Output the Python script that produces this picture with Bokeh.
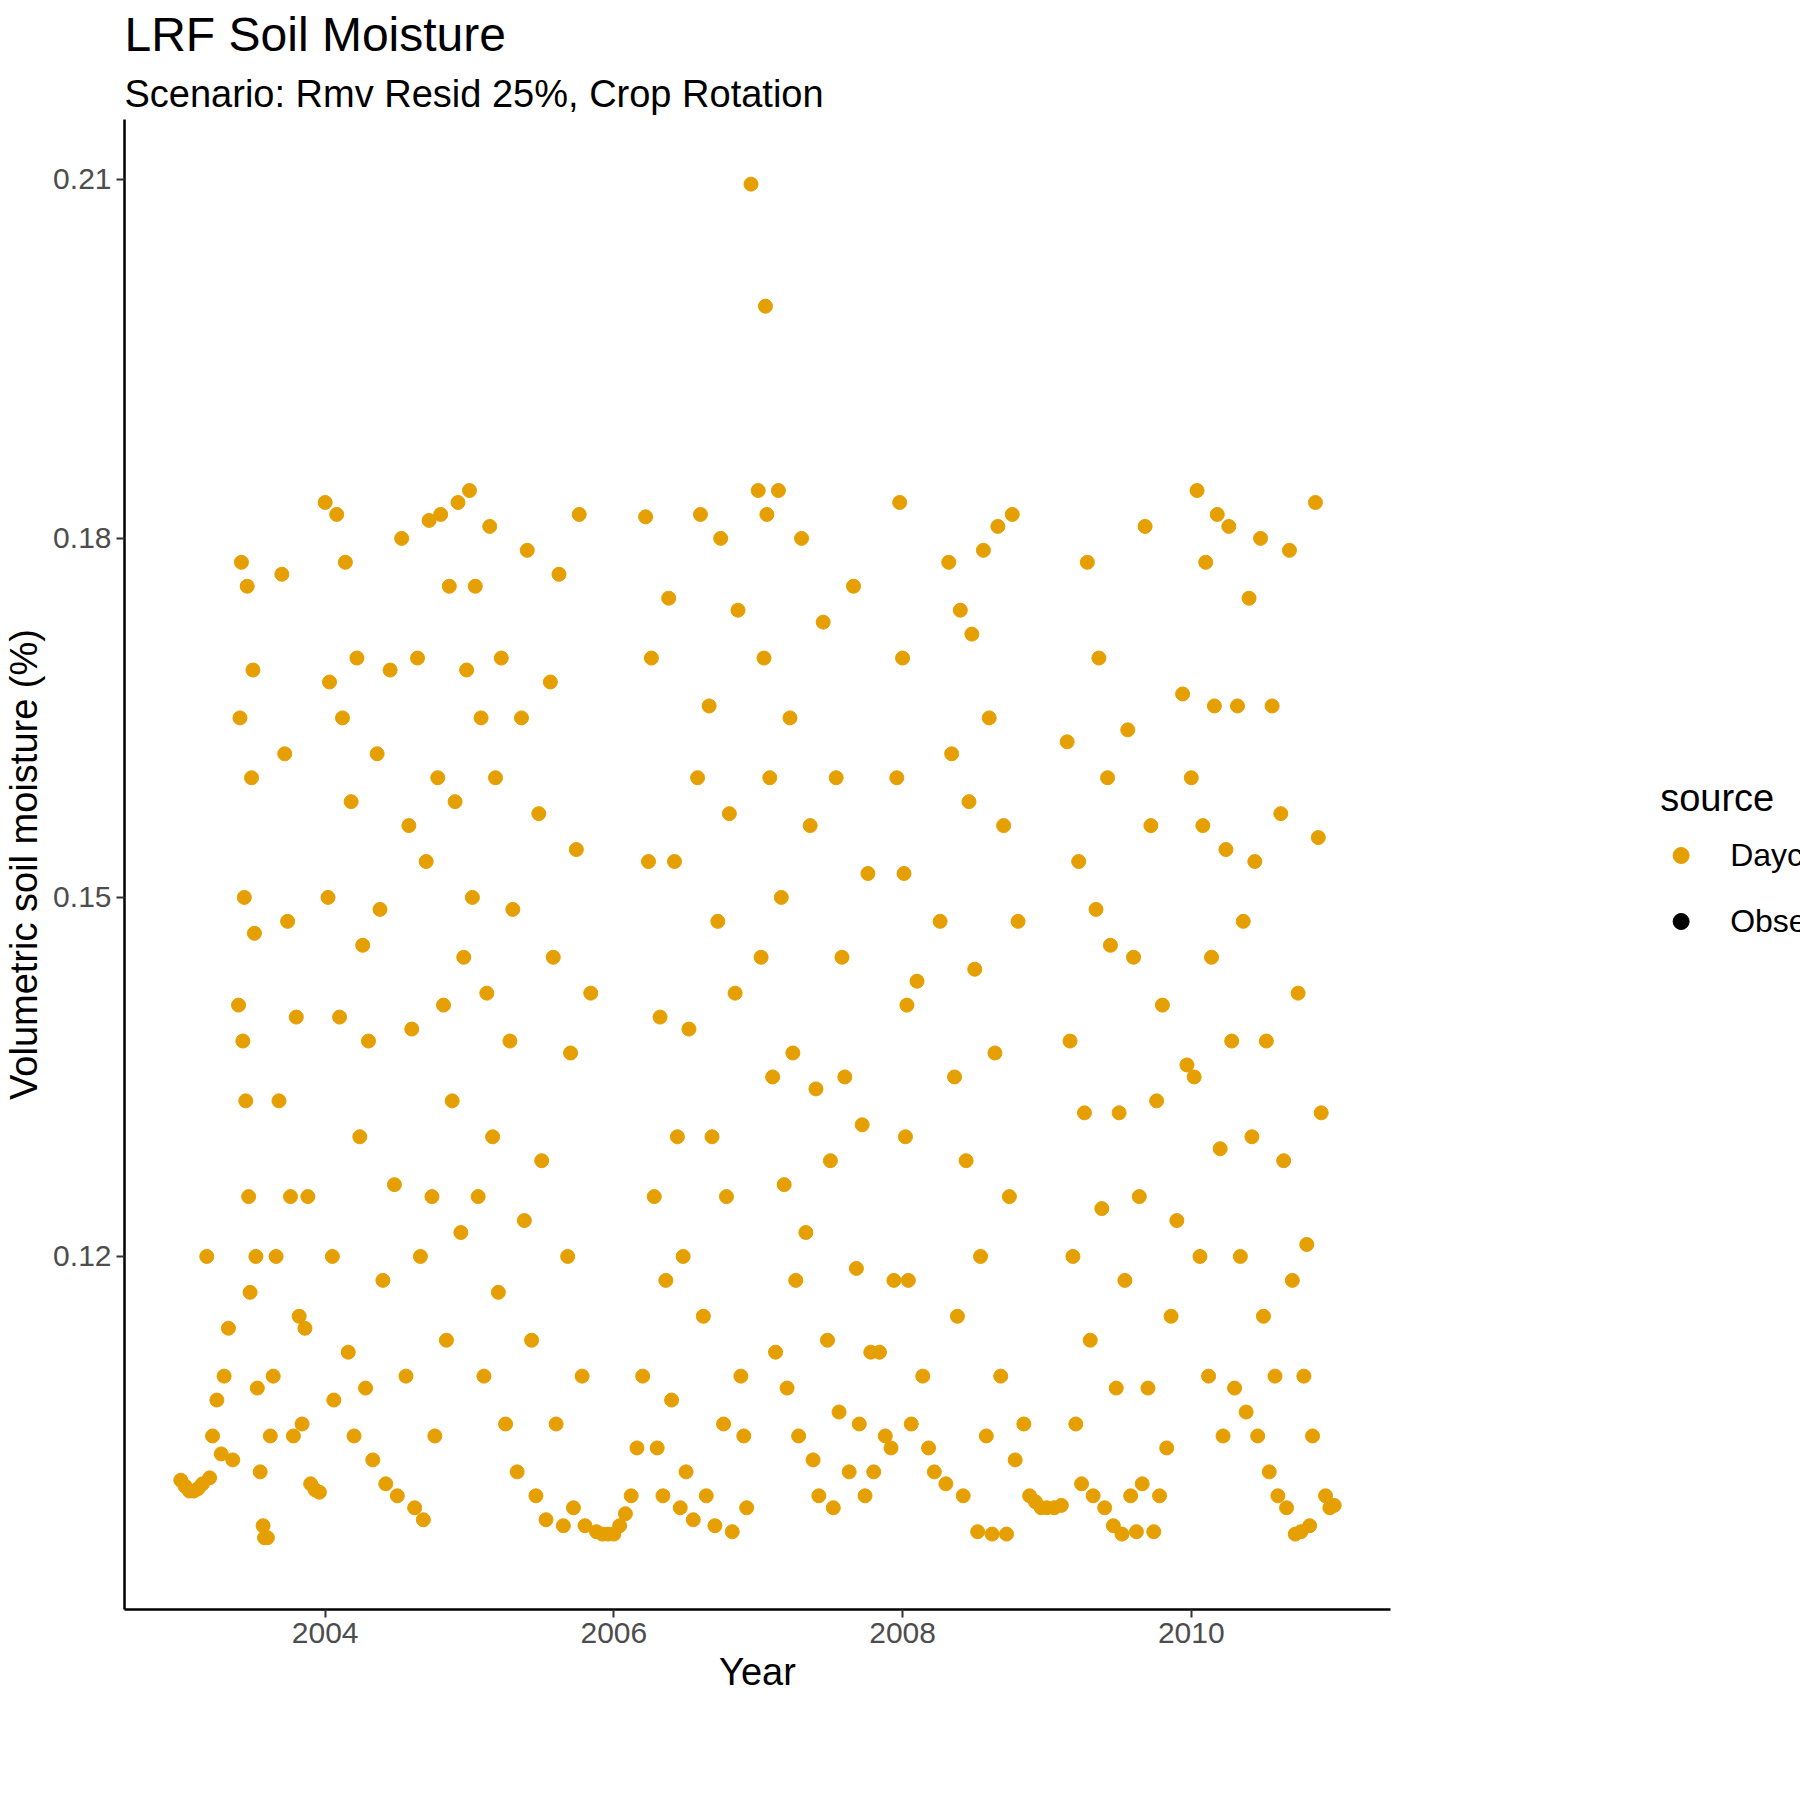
from bokeh.plotting import figure
from bokeh.models import Title, Legend, LegendItem, FixedTicker
from bokeh.embed import file_html
from bokeh.resources import INLINE

# Daycent simulated daily soil moisture (decimal year, volumetric fraction)
x2003 = [2003.00, 2003.03, 2003.06, 2003.09, 2003.12, 2003.15, 2003.18, 2003.20, 2003.22, 2003.25,
         2003.28, 2003.30, 2003.33, 2003.36, 2003.40, 2003.41, 2003.42, 2003.43, 2003.44, 2003.45,
         2003.46, 2003.47, 2003.48, 2003.49, 2003.50, 2003.51, 2003.52, 2003.53, 2003.55, 2003.57,
         2003.58, 2003.60, 2003.62, 2003.64, 2003.66, 2003.68, 2003.70, 2003.72, 2003.74, 2003.76,
         2003.78, 2003.80, 2003.82, 2003.84, 2003.86, 2003.88, 2003.90, 2003.93, 2003.96]
y2003 = [0.1013, 0.1008, 0.1004, 0.1004, 0.1006, 0.1010, 0.1200, 0.1015, 0.1050, 0.1080,
         0.1035, 0.1100, 0.1140, 0.1030, 0.1410, 0.1650, 0.1780, 0.1380, 0.1500, 0.1330,
         0.1760, 0.1250, 0.1170, 0.1600, 0.1690, 0.1470, 0.1200, 0.1090, 0.1020, 0.0975,
         0.0965, 0.0965, 0.1050, 0.1100, 0.1200, 0.1330, 0.1770, 0.1620, 0.1480, 0.1250,
         0.1050, 0.1400, 0.1150, 0.1060, 0.1140, 0.1250, 0.1010, 0.1005, 0.1003]

x2004 = [2004.00, 2004.02, 2004.03, 2004.05, 2004.06, 2004.08, 2004.10, 2004.12, 2004.14, 2004.16,
         2004.18, 2004.20, 2004.22, 2004.24, 2004.26, 2004.28, 2004.30, 2004.33, 2004.36, 2004.38,
         2004.40, 2004.42, 2004.45, 2004.48, 2004.50, 2004.53, 2004.56, 2004.58, 2004.60, 2004.62,
         2004.64, 2004.66, 2004.68, 2004.70, 2004.72, 2004.74, 2004.76, 2004.78, 2004.80, 2004.82,
         2004.84, 2004.86, 2004.88, 2004.90, 2004.92, 2004.94, 2004.96, 2004.98]
y2004 = [0.1830, 0.1500, 0.1680, 0.1200, 0.1080, 0.1820, 0.1400, 0.1650, 0.1780, 0.1120,
         0.1580, 0.1050, 0.1700, 0.1300, 0.1460, 0.1090, 0.1380, 0.1030, 0.1620, 0.1490,
         0.1180, 0.1010, 0.1690, 0.1260, 0.1000, 0.1800, 0.1100, 0.1560, 0.1390, 0.0990,
         0.1700, 0.1200, 0.0980, 0.1530, 0.1815, 0.1250, 0.1050, 0.1600, 0.1820, 0.1410,
         0.1130, 0.1760, 0.1330, 0.1580, 0.1830, 0.1220, 0.1450, 0.1690]

x2005 = [2005.00, 2005.02, 2005.04, 2005.06, 2005.08, 2005.10, 2005.12, 2005.14, 2005.16, 2005.18,
         2005.20, 2005.22, 2005.25, 2005.28, 2005.30, 2005.33, 2005.36, 2005.38, 2005.40, 2005.43,
         2005.46, 2005.48, 2005.50, 2005.53, 2005.56, 2005.58, 2005.60, 2005.62, 2005.65, 2005.68,
         2005.70, 2005.72, 2005.74, 2005.76, 2005.78, 2005.80, 2005.84, 2005.88, 2005.92, 2005.96]
y2005 = [0.1840, 0.1500, 0.1760, 0.1250, 0.1650, 0.1100, 0.1420, 0.1810, 0.1300, 0.1600,
         0.1170, 0.1700, 0.1060, 0.1380, 0.1490, 0.1020, 0.1650, 0.1230, 0.1790, 0.1130,
         0.1000, 0.1570, 0.1280, 0.0980, 0.1680, 0.1450, 0.1060, 0.1770, 0.0975, 0.1200,
         0.1370, 0.0990, 0.1540, 0.1820, 0.1100, 0.0975, 0.1420, 0.0970, 0.0968, 0.0968]

x2006 = [2006.00, 2006.04, 2006.08, 2006.12, 2006.16, 2006.20, 2006.22, 2006.24, 2006.26, 2006.28,
         2006.30, 2006.32, 2006.34, 2006.36, 2006.38, 2006.40, 2006.42, 2006.44, 2006.46, 2006.48,
         2006.50, 2006.52, 2006.55, 2006.58, 2006.60, 2006.62, 2006.64, 2006.66, 2006.68, 2006.70,
         2006.72, 2006.74, 2006.76, 2006.78, 2006.80, 2006.82, 2006.84, 2006.86, 2006.88, 2006.90,
         2006.92, 2006.95]
y2006 = [0.0968, 0.0975, 0.0985, 0.1000, 0.1040, 0.1100, 0.1818, 0.1530, 0.1700, 0.1250,
         0.1040, 0.1400, 0.1000, 0.1180, 0.1750, 0.1080, 0.1530, 0.1300, 0.0990, 0.1200,
         0.1020, 0.1390, 0.0980, 0.1600, 0.1820, 0.1150, 0.1000, 0.1660, 0.1300, 0.0975,
         0.1480, 0.1800, 0.1060, 0.1250, 0.1570, 0.0970, 0.1420, 0.1740, 0.1100, 0.1050,
         0.0990, 0.2096]

x2007 = [2007.00, 2007.02, 2007.04, 2007.05, 2007.06, 2007.08, 2007.10, 2007.12, 2007.14, 2007.16,
         2007.18, 2007.20, 2007.22, 2007.24, 2007.26, 2007.28, 2007.30, 2007.33, 2007.36, 2007.38,
         2007.40, 2007.42, 2007.45, 2007.48, 2007.50, 2007.52, 2007.54, 2007.56, 2007.58, 2007.60,
         2007.63, 2007.66, 2007.68, 2007.70, 2007.72, 2007.74, 2007.76, 2007.78, 2007.80, 2007.84,
         2007.88, 2007.92, 2007.94, 2007.96, 2007.98]
y2007 = [0.1840, 0.1450, 0.1700, 0.1994, 0.1820, 0.1600, 0.1350, 0.1120, 0.1840, 0.1500,
         0.1260, 0.1090, 0.1650, 0.1370, 0.1180, 0.1050, 0.1800, 0.1220, 0.1560, 0.1030,
         0.1340, 0.1000, 0.1730, 0.1130, 0.1280, 0.0990, 0.1600, 0.1070, 0.1450, 0.1350,
         0.1020, 0.1760, 0.1190, 0.1060, 0.1310, 0.1000, 0.1520, 0.1120, 0.1020, 0.1120,
         0.1050, 0.1040, 0.1180, 0.1600, 0.1830]

x2008 = [2008.00, 2008.01, 2008.02, 2008.03, 2008.04, 2008.06, 2008.10, 2008.14, 2008.18, 2008.22,
         2008.26, 2008.30, 2008.32, 2008.34, 2008.36, 2008.38, 2008.40, 2008.42, 2008.44, 2008.46,
         2008.48, 2008.50, 2008.52, 2008.54, 2008.56, 2008.58, 2008.60, 2008.62, 2008.64, 2008.66,
         2008.68, 2008.70, 2008.72, 2008.74, 2008.76, 2008.78, 2008.80, 2008.84, 2008.88, 2008.92,
         2008.96]
y2008 = [0.1700, 0.1520, 0.1300, 0.1410, 0.1180, 0.1060, 0.1430, 0.1100, 0.1040, 0.1020,
         0.1480, 0.1010, 0.1780, 0.1620, 0.1350, 0.1150, 0.1740, 0.1000, 0.1280, 0.1580,
         0.1720, 0.1440, 0.0970, 0.1200, 0.1790, 0.1050, 0.1650, 0.0968, 0.1370, 0.1810,
         0.1100, 0.1560, 0.0968, 0.1250, 0.1820, 0.1030, 0.1480, 0.1060, 0.1000, 0.0995,
         0.0990]

x2009 = [2009.00, 2009.05, 2009.10, 2009.14, 2009.16, 2009.18, 2009.20, 2009.22, 2009.24, 2009.26,
         2009.28, 2009.30, 2009.32, 2009.34, 2009.36, 2009.38, 2009.40, 2009.42, 2009.44, 2009.46,
         2009.48, 2009.50, 2009.52, 2009.54, 2009.56, 2009.58, 2009.60, 2009.62, 2009.64, 2009.66,
         2009.68, 2009.70, 2009.72, 2009.74, 2009.76, 2009.78, 2009.80, 2009.83, 2009.86, 2009.90,
         2009.94, 2009.97]
y2009 = [0.0990, 0.0990, 0.0992, 0.1630, 0.1380, 0.1200, 0.1060, 0.1530, 0.1010, 0.1320,
         0.1780, 0.1130, 0.1000, 0.1490, 0.1700, 0.1240, 0.0990, 0.1600, 0.1460, 0.0975,
         0.1090, 0.1320, 0.0968, 0.1180, 0.1640, 0.1000, 0.1450, 0.0970, 0.1250, 0.1010,
         0.1810, 0.1090, 0.1560, 0.0970, 0.1330, 0.1000, 0.1410, 0.1040, 0.1150, 0.1230,
         0.1670, 0.1360]

x2010 = [2010.00, 2010.02, 2010.04, 2010.06, 2010.08, 2010.10, 2010.12, 2010.14, 2010.16, 2010.18,
         2010.20, 2010.22, 2010.24, 2010.26, 2010.28, 2010.30, 2010.32, 2010.34, 2010.36, 2010.38,
         2010.40, 2010.42, 2010.44, 2010.46, 2010.48, 2010.50, 2010.52, 2010.54, 2010.56, 2010.58,
         2010.60, 2010.62, 2010.64, 2010.66, 2010.68, 2010.70, 2010.72, 2010.74, 2010.76, 2010.78,
         2010.80, 2010.82, 2010.84, 2010.86, 2010.88, 2010.90, 2010.93, 2010.96, 2010.99]
y2010 = [0.1600, 0.1350, 0.1840, 0.1200, 0.1560, 0.1780, 0.1100, 0.1450, 0.1660, 0.1820,
         0.1290, 0.1050, 0.1540, 0.1810, 0.1380, 0.1090, 0.1660, 0.1200, 0.1480, 0.1070,
         0.1750, 0.1300, 0.1530, 0.1050, 0.1800, 0.1150, 0.1380, 0.1020, 0.1660, 0.1100,
         0.1000, 0.1570, 0.1280, 0.0990, 0.1790, 0.1180, 0.0968, 0.1420, 0.0970, 0.1100,
         0.1210, 0.0975, 0.1050, 0.1830, 0.1550, 0.1320, 0.1000, 0.0990, 0.0992]

xs = x2003 + x2004 + x2005 + x2006 + x2007 + x2008 + x2009 + x2010
ys = y2003 + y2004 + y2005 + y2006 + y2007 + y2008 + y2009 + y2010

# no observed values in this scenario
obs_x = [float("nan")]
obs_y = [float("nan")]

year_ticks = [2004, 2006, 2008, 2010]
moist_ticks = [0.12, 0.15, 0.18, 0.21]

FONT = "Liberation Sans"

p = figure(frame_width=1266, frame_height=1490, output_backend="svg", toolbar_location=None,
           x_range=(2002.61, 2011.38), y_range=(0.0905, 0.215),
           min_border_left=20, min_border_right=20, min_border_top=10, min_border_bottom=10)
p.title.text = "LRF Soil Moisture"
p.title.text_font = FONT
p.title.text_font_size = "48px"
p.title.text_font_style = "normal"
p.title.text_color = "black"
p.add_layout(Title(text="Scenario: Rmv Resid 25%, Crop Rotation", text_font=FONT,
                   text_font_size="38px", text_font_style="normal", text_color="black"), "above")

p.xgrid.visible = False
p.ygrid.visible = False
p.outline_line_color = None

for ax in (p.xaxis, p.yaxis):
    ax.axis_line_color = "black"
    ax.axis_line_width = 2.5
    ax.major_tick_line_color = "#333333"
    ax.major_tick_line_width = 2
    ax.major_tick_out = 8
    ax.major_tick_in = 0
    ax.minor_tick_line_color = None
    ax.major_label_text_font = FONT
    ax.major_label_text_font_size = "30px"
    ax.major_label_text_color = "#4d4d4d"
    ax.axis_label_text_font = FONT
    ax.axis_label_text_font_size = "38px"
    ax.axis_label_text_font_style = "normal"
    ax.axis_label_text_color = "black"
p.xaxis.ticker = FixedTicker(ticks=year_ticks)
p.yaxis.ticker = FixedTicker(ticks=moist_ticks)
p.yaxis.major_label_overrides = {0.12: "0.12", 0.15: "0.15", 0.18: "0.18", 0.21: "0.21"}
p.xaxis.axis_label = "Year"
p.yaxis.axis_label = "Volumetric soil moisture (%)"

day = p.scatter(xs, ys, size=14, color="#E69F00")
obs = p.scatter(obs_x, obs_y, size=14, color="black")

legend = Legend(items=[LegendItem(label="Daycent", renderers=[day]),
                       LegendItem(label="Observed", renderers=[obs])],
                title="source", title_text_font=FONT, title_text_font_size="38px",
                title_text_font_style="normal", title_text_color="black",
                label_text_font=FONT, label_text_font_size="32px", label_text_color="black",
                border_line_color=None, background_fill_alpha=0,
                glyph_width=40, glyph_height=60, label_standoff=30, spacing=6,
                margin=40, padding=10, location="center")
p.add_layout(legend, "right")

open("out.html", "w").write(file_html(p, INLINE))
